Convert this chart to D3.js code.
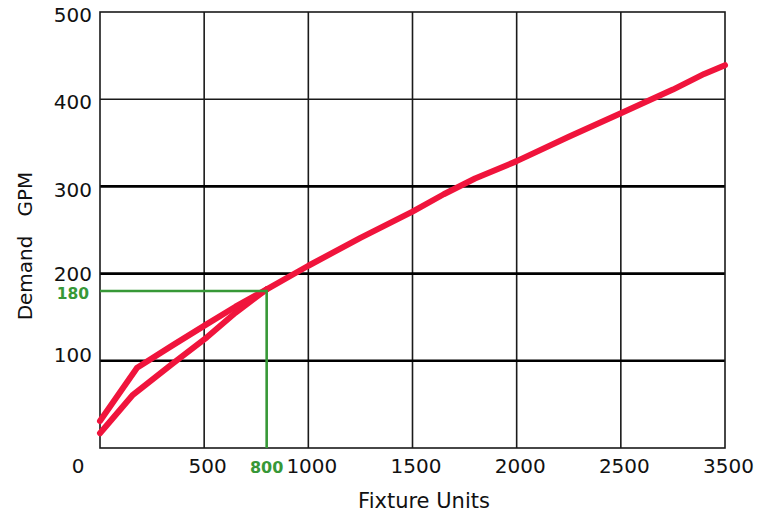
<!DOCTYPE html>
<html>
<head>
<meta charset="utf-8">
<script src="https://cdn.jsdelivr.net/npm/d3@7"></script>
<style>
  html, body { margin: 0; padding: 0; background: #fff; }
  text { font-family: "DejaVu Sans", Verdana, sans-serif; }
</style>
</head>
<body>
<svg id="chart" width="765" height="516"></svg>
<script>
// ---- data ----
const xTickValues = [500, 1000, 1500, 2000, 2500, 3000];
const xTickLabels = ["500", "1000", "1500", "2000", "2500", "3500"];
const yTickValues = [100, 200, 300, 400, 500];
const yTickLabels = ["100", "200", "300", "400", "500"];
const boldGridValues = [100, 200, 300];

// lower branch (low end)
const lowerX = [0, 158, 350, 513, 650, 800];
const lowerY = [17, 61, 97, 127, 155, 182];
// upper branch (low end)
const upperX = [0, 178, 350, 513, 650, 800];
const upperY = [31, 92, 118, 142, 162, 182];
// shared curve
const sharedX = [800, 1000, 1250, 1500, 1650, 1800, 2000, 2250, 2500, 2750, 2900, 3000];
const sharedY = [182, 209, 241, 271, 291, 309, 329, 357, 384, 411, 429, 439];

const markerX = 800;
const markerY = 180;

// ---- drawing ----
const svg = d3.select("#chart");
const x = d3.scaleLinear().domain([0, 3000]).range([100, 725]);
const y = d3.scaleLinear().domain([0, 500]).range([448, 12]);

const red = "#f0143c";
const green = "#379837";

// vertical grid lines
svg.append("g").selectAll("line").data(xTickValues.slice(0, -1)).join("line")
  .attr("x1", d => x(d)).attr("x2", d => x(d))
  .attr("y1", y(500)).attr("y2", y(0))
  .attr("stroke", "#1a1a1a").attr("stroke-width", 1.6);

// horizontal grid lines
svg.append("g").selectAll("line").data([100, 200, 300, 400]).join("line")
  .attr("x1", x(0)).attr("x2", x(3000))
  .attr("y1", d => y(d)).attr("y2", d => y(d))
  .attr("stroke", d => boldGridValues.includes(d) ? "#000" : "#1a1a1a")
  .attr("stroke-width", d => boldGridValues.includes(d) ? 2.6 : 1.6);

// frame
svg.append("rect")
  .attr("x", x(0)).attr("y", y(500))
  .attr("width", x(3000) - x(0)).attr("height", y(0) - y(500))
  .attr("fill", "none").attr("stroke", "#1a1a1a").attr("stroke-width", 1.6);

// x axis labels
const xAxis = d3.axisBottom(x)
  .tickValues(xTickValues)
  .tickFormat((d, i) => xTickLabels[i])
  .tickSize(0).tickPadding(0);
const gx = svg.append("g").attr("transform", `translate(0,${y(0)})`).call(xAxis);
gx.select(".domain").remove();
gx.selectAll("text")
  .attr("font-family", "DejaVu Sans, Verdana, sans-serif")
  .attr("font-size", 20).attr("fill", "#111")
  .attr("dx", 3).attr("y", 25).attr("dy", 0);

// y axis labels
const yAxis = d3.axisLeft(y)
  .tickValues(yTickValues)
  .tickFormat((d, i) => yTickLabels[i])
  .tickSize(0).tickPadding(8);
const gy = svg.append("g").attr("transform", `translate(${x(0)},0)`).call(yAxis);
gy.select(".domain").remove();
gy.selectAll("text")
  .attr("font-family", "DejaVu Sans, Verdana, sans-serif")
  .attr("font-size", 20).attr("fill", "#111")
  .attr("y", d => d === 100 ? -7 : (d === 200 ? -1 : 2))
  .attr("dy", "0.38em");

// origin label
svg.append("text").attr("x", 78).attr("y", 473)
  .attr("text-anchor", "middle").attr("font-size", 20).attr("fill", "#111")
  .text("0");

// axis titles
svg.append("text").attr("x", 424).attr("y", 508)
  .attr("text-anchor", "middle").attr("font-size", 21).attr("fill", "#111")
  .text("Fixture Units");
svg.append("text")
  .attr("transform", "translate(32,246) rotate(-90)")
  .attr("text-anchor", "middle").attr("font-size", 20).attr("fill", "#111")
  .style("white-space", "pre")
  .text("Demand   GPM");

// curves
const line = d3.line().x(d => x(d[0])).y(d => y(d[1]));
const toPts = (xs, ys) => xs.map((v, i) => [v, ys[i]]);
[toPts(lowerX, lowerY), toPts(upperX, upperY), toPts(sharedX, sharedY)].forEach(pts => {
  svg.append("path").attr("d", line(pts))
    .attr("fill", "none").attr("stroke", red).attr("stroke-width", 6)
    .attr("stroke-linejoin", "round").attr("stroke-linecap", "round");
});

// green marker lines
svg.append("path")
  .attr("d", line([[0, markerY], [markerX, markerY], [markerX, 0]]))
  .attr("fill", "none").attr("stroke", green).attr("stroke-width", 2.6);

svg.append("text").attr("x", 89).attr("y", y(markerY) + 8)
  .attr("text-anchor", "end")
  .attr("font-family", "DejaVu Sans Condensed, DejaVu Sans, sans-serif")
  .attr("font-weight", "bold").attr("font-size", 15.5).attr("fill", green)
  .text(String(markerY));
svg.append("text").attr("x", x(markerX)).attr("y", 473)
  .attr("text-anchor", "middle")
  .attr("font-family", "DejaVu Sans Condensed, DejaVu Sans, sans-serif")
  .attr("font-weight", "bold").attr("font-size", 16).attr("fill", green)
  .text(String(markerX));
</script>
</body>
</html>
